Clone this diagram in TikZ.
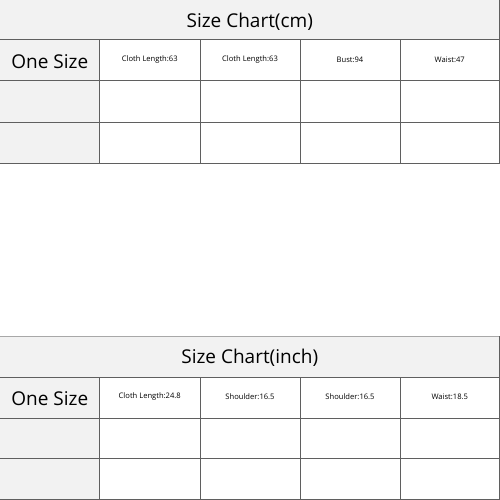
\documentclass[tikz,border=0pt]{standalone}
\usepackage{fontspec}
\setmainfont{Open Sans}
\definecolor{hd}{HTML}{F2F2F2}
\definecolor{ln}{HTML}{5F5F5F}
\definecolor{lnl}{HTML}{A8A8A8}
\begin{document}
\begin{tikzpicture}[x=1pt,y=-1pt,
  cell/.style={anchor=north west, inner sep=0pt, outer sep=0pt, draw=none},
  grid/.style={draw=ln, line width=1pt},
  big/.style={inner sep=0pt, font=\fontsize{19}{19}\selectfont},
  small/.style={inner sep=0pt, font=\fontsize{7.6}{7.6}\selectfont}]
\useasboundingbox (0,0) rectangle (500,500);
\fill[white] (0,0) rectangle (500,500);
% ---------- top table ----------
\node[cell, fill=hd, minimum width=499.5pt, minimum height=40pt] (t1) at (0,0) {};
\foreach \r/\y in {1/40,2/81,3/122}{
  \node[cell, fill=hd, minimum width=99.5pt, minimum height=41pt] (a\r0) at (0,\y) {};
  \foreach \c/\x/\w in {1/99.5/100.5,2/200/100,3/300/100,4/400/99.5}
    \node[cell, fill=white, minimum width=\w pt, minimum height=41pt] (a\r\c) at (\x,\y) {};
}
\node[big] (t1l) at ([yshift=-1.5pt]t1.center) {Size Chart(cm)};
\node[big] (a10l) at ([yshift=-1.5pt]a10.center) {One Size};
\node[small] (a11l) at ([yshift=0.5pt]a11.center) {Cloth Length:63};
\node[small] (a12l) at ([yshift=0.5pt]a12.center) {Cloth Length:63};
\node[small] (a13l) at ([yshift=0.5pt]a13.center) {Bust:94};
\node[small] (a14l) at ([yshift=0.5pt]a14.center) {Waist:47};
\draw[grid] (a10.north west) -- (a14.north east);
\draw[grid] (a20.north west) -- (a24.north east);
\draw[grid] (a30.north west) -- (a34.north east);
\draw[grid] (a30.south west) -- (a34.south east);
\foreach \c in {1,2,3,4}
  \draw[grid] (a1\c.north west) -- (a3\c.south west);
\draw[grid] (t1.north east) -- (a34.south east);
% ---------- bottom table ----------
\node[cell, fill=hd, minimum width=499.5pt, minimum height=41pt] (t2) at (0,336) {};
\foreach \r/\y/\h in {1/377/41,2/418/40,3/458/41}{
  \node[cell, fill=hd, minimum width=99.5pt, minimum height=\h pt] (b\r0) at (0,\y) {};
  \foreach \c/\x/\w in {1/99.5/100.5,2/200/100,3/300/100,4/400/99.5}
    \node[cell, fill=white, minimum width=\w pt, minimum height=\h pt] (b\r\c) at (\x,\y) {};
}
\node[big] (t2l) at ([yshift=-1.5pt]t2.center) {Size Chart(inch)};
\node[big] (b10l) at ([yshift=-1.5pt]b10.center) {One Size};
\node[small] (b11l) at ([yshift=0.5pt]b11.center) {Cloth Length:24.8};
\node[small] (b12l) at ([yshift=0.5pt]b12.center) {Shoulder:16.5};
\node[small] (b13l) at ([yshift=0.5pt]b13.center) {Shoulder:16.5};
\node[small] (b14l) at ([yshift=0.5pt]b14.center) {Waist:18.5};
\draw[draw=lnl, line width=1pt] (t2.north west) -- (t2.north east);
\draw[grid] (b10.north west) -- (b14.north east);
\draw[grid] (b20.north west) -- (b24.north east);
\draw[grid] (b30.north west) -- (b34.north east);
\draw[grid] (b30.south west) -- (b34.south east);
\foreach \c in {1,2,3,4}
  \draw[grid] (b1\c.north west) -- (b3\c.south west);
\draw[grid] (t2.north east) -- (b34.south east);
\end{tikzpicture}
\end{document}
